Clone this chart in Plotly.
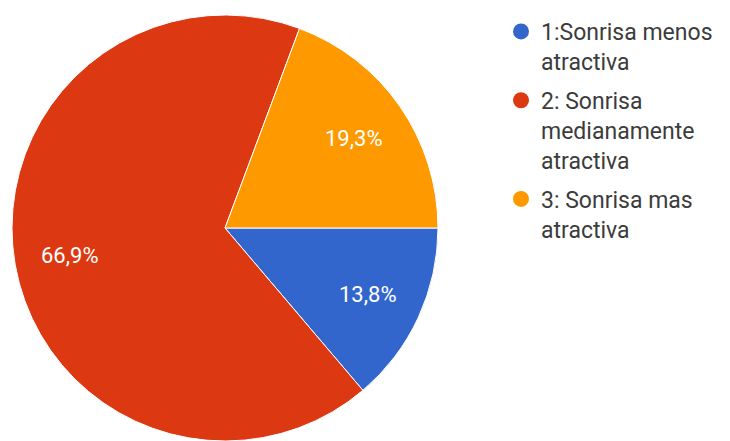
import math
import plotly.graph_objects as go

labels = ["1:Sonrisa menos<br>atractiva", "2: Sonrisa<br>medianamente<br>atractiva", "3: Sonrisa mas<br>atractiva"]
counts = [20, 97, 28]
colors = ["#3366cc", "#dc3912", "#ff9900"]

W, H = 730, 441
# page has an 8px body margin; pie square in figure pixels
px0, px1 = 4, 430
py0, py1 = 7, 433  # from top
dom_x = [px0 / W, px1 / W]
dom_y = [(H - py1) / H, (H - py0) / H]

fig = go.Figure()
fig.add_trace(go.Pie(
    labels=labels, values=counts, sort=False, direction="clockwise", rotation=90,
    marker=dict(colors=colors, line=dict(color="white", width=1)),
    textinfo="none", textposition="none",
    showlegend=False, hoverinfo="label+percent",
    domain=dict(x=dom_x, y=dom_y),
))

# percentage labels at 0.74 of the radius along each slice's mid-angle
total = sum(counts)
annotations = []
cum = 0.0
for c in counts:
    f = c / total
    ang = math.radians(90 + 360 * (cum + f / 2))
    annotations.append(dict(
        x=0.74 * math.sin(ang), y=0.74 * math.cos(ang), xref="x", yref="y",
        text=f"{f*100:.1f}%".replace(".", ","), showarrow=False,
        font=dict(family="Roboto", size=22, color="white"),
        xanchor="center", yanchor="middle",
    ))
    cum += f

for lab, col in zip(labels, colors):
    fig.add_trace(go.Scatter(
        x=[None], y=[None], mode="markers", name=lab, legendgroup=lab,
        marker=dict(symbol="circle", size=20, color=col),
    ))

fig.update_layout(
    width=W, height=H, margin=dict(l=0, r=0, t=0, b=0),
    paper_bgcolor="white", plot_bgcolor="rgba(0,0,0,0)",
    xaxis=dict(visible=False, domain=dom_x, range=[-1, 1], fixedrange=True),
    yaxis=dict(visible=False, domain=dom_y, range=[-1, 1], fixedrange=True),
    separators=",.",
    annotations=annotations,
    legend=dict(x=493 / W, y=1 - 2 / H, xanchor="left", yanchor="top",
                font=dict(family="Roboto", size=23, color="#3c3c3c"),
                itemwidth=30, valign="top", tracegroupgap=6, bgcolor="rgba(0,0,0,0)"),
)
fig.write_html("out.html")
